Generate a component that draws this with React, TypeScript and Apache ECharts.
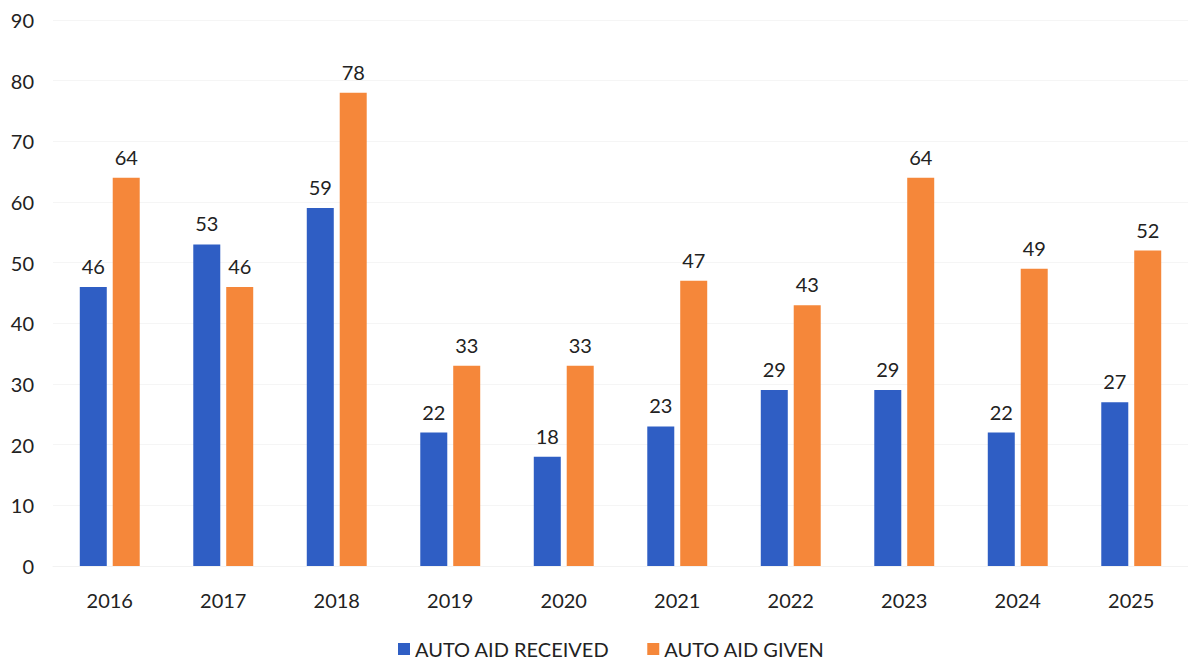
import React, { useEffect, useRef } from "react";
import * as echarts from "echarts";

const years = ["2016", "2017", "2018", "2019", "2020", "2021", "2022", "2023", "2024", "2025"];
const received = [46, 53, 59, 22, 18, 23, 29, 29, 22, 27];
const given = [64, 46, 78, 33, 33, 47, 43, 64, 49, 52];
const yTicks = { min: 0, max: 90, interval: 10 };

export default function App() {
  const ref = useRef<HTMLDivElement>(null);
  useEffect(() => {
    if (!ref.current) return;
    const chart = echarts.init(ref.current, undefined, { renderer: "svg" });
    const font = "Lato, 'Open Sans', sans-serif";
    const label = {
      show: true,
      position: "top" as const,
      distance: 11,
      fontSize: 20,
      color: "#222",
      fontFamily: font,
    };
    chart.setOption({
      animation: false,
      backgroundColor: "#ffffff",
      grid: { left: 53, right: -18, top: 20, bottom: 98, containLabel: false },
      legend: {
        left: 398,
        top: 638,
        padding: 0,
        itemWidth: 12,
        itemHeight: 12,
        itemGap: 38,
        icon: "rect",
        textStyle: { fontSize: 20, lineHeight: 22, color: "#222", fontFamily: font },
        data: ["AUTO AID RECEIVED", "AUTO AID GIVEN"],
      },
      xAxis: {
        type: "category",
        data: years,
        axisLine: { show: true, lineStyle: { color: "#f2f2f2" } },
        axisTick: { show: false },
        axisLabel: { fontSize: 20, color: "#222", margin: 24, fontFamily: font },
      },
      yAxis: {
        type: "value",
        min: yTicks.min,
        max: yTicks.max,
        interval: yTicks.interval,
        axisLine: { show: false },
        axisTick: { show: false },
        splitLine: { show: true, lineStyle: { color: "#f5f5f5" } },
        axisLabel: { fontSize: 20, color: "#222", margin: 19, fontFamily: font },
      },
      series: [
        {
          name: "AUTO AID RECEIVED",
          type: "bar",
          data: received,
          barWidth: 27,
          barGap: "22%",
          itemStyle: { color: "#2f5ec4" },
          label,
        },
        {
          name: "AUTO AID GIVEN",
          type: "bar",
          data: given,
          barWidth: 27,
          itemStyle: { color: "#f5873a" },
          label,
        },
      ],
    });
    return () => chart.dispose();
  }, []);
  return (
    <div
      ref={ref}
      style={{ position: "absolute", left: 0, top: 0, width: 1188, height: 664 }}
    />
  );
}
